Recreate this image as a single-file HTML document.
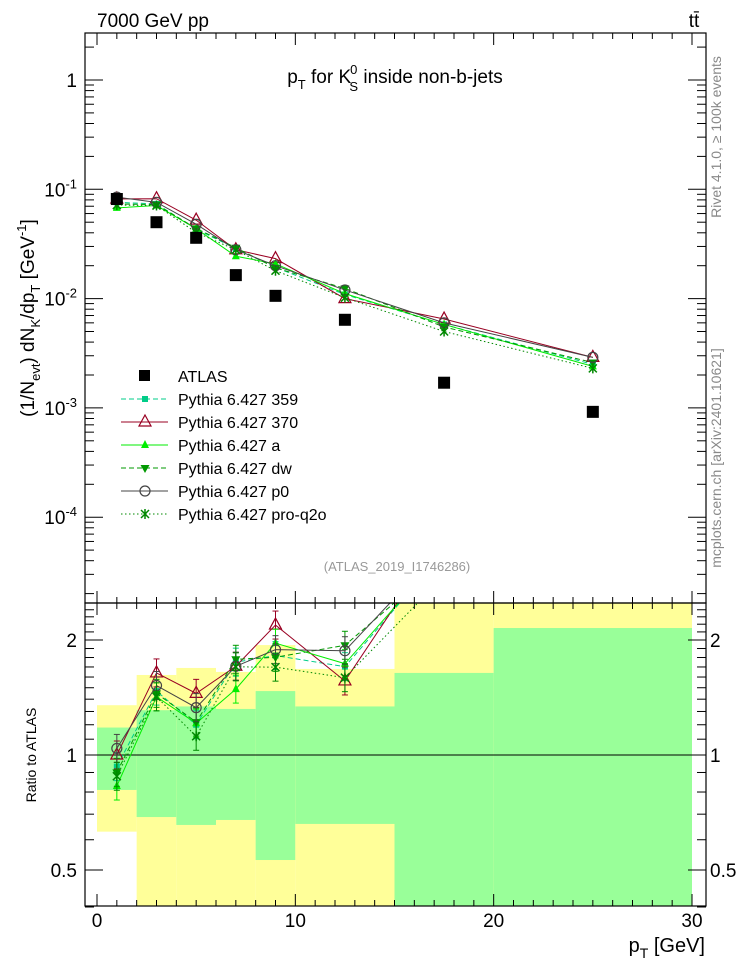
<!DOCTYPE html>
<html><head><meta charset="utf-8"><style>
body{margin:0;background:#fff}
svg{display:block;font-family:"Liberation Sans",sans-serif}
</style></head><body>
<svg id="c" width="746" height="972" viewBox="0 0 746 972" xmlns="http://www.w3.org/2000/svg">
<text x="97" y="27" font-size="19">7000 GeV pp</text>
<text x="694" y="27" font-size="19" text-anchor="middle">tt̄</text>
<text x="395" y="83" font-size="19" text-anchor="middle">p<tspan font-size="13" dy="6">T</tspan><tspan dy="-6"> for K</tspan><tspan font-size="13" dx="-1" dy="-9">0</tspan><tspan font-size="13" dx="-8" dy="17">S</tspan><tspan dy="-8"> inside non-b-jets</tspan></text>
<text transform="translate(34,318) rotate(-90)" font-size="19" text-anchor="middle">(1/N<tspan font-size="13" dy="6">evt</tspan><tspan dy="-6">) dN</tspan><tspan font-size="13" dy="6">K</tspan><tspan dy="-6">/dp</tspan><tspan font-size="13" dy="6">T</tspan><tspan dy="-6"> [GeV</tspan><tspan font-size="13" dy="-8">-1</tspan><tspan dy="8">]</tspan></text>
<text transform="translate(721,137) rotate(-90)" font-size="14" fill="#888" text-anchor="middle">Rivet 4.1.0, ≥ 100k events</text>
<text transform="translate(721,458) rotate(-90)" font-size="14" fill="#888" text-anchor="middle">mcplots.cern.ch [arXiv:2401.10621]</text>
<text x="397" y="571" font-size="13" fill="#999" text-anchor="middle">(ATLAS_2019_I1746286)</text>
<text transform="translate(36,755) rotate(-90)" font-size="14" text-anchor="middle">Ratio to ATLAS</text>
<text x="705" y="952" font-size="20" text-anchor="end">p<tspan font-size="14" dy="6">T</tspan><tspan dy="-6"> [GeV]</tspan></text>
<g id="bands"></g><g id="ratio"></g><g id="main"></g><g id="axes"></g><g id="legend"></g>
</svg>
<script>
const xCenters=[1,3,5,7,9,12.5,17.5,25];
const binEdges=[0,2,4,6,8,10,15,20,30];
const atlas=[0.0815,0.050,0.036,0.0164,0.0106,0.0064,0.0017,0.00092];
const p359=[0.076,0.0735,0.0432,0.0287,0.0193,0.0109,0.0058,0.0025];
const p370=[0.0815,0.082,0.0522,0.0280,0.0232,0.0100,0.0065,0.0029];
const pA=[0.0676,0.071,0.0436,0.0244,0.0208,0.0111,0.0058,0.0024];
const pDW=[0.0734,0.0725,0.0439,0.0292,0.0191,0.0124,0.0055,0.0026];
const pP0=[0.0848,0.076,0.0479,0.0280,0.0200,0.0120,0.0060,0.0029];
const pQ2O=[0.0717,0.071,0.0403,0.0279,0.0180,0.0102,0.0050,0.0023];
const bandInnerLo=[0.81,0.688,0.656,0.676,0.531,0.66,0.3,0.3];
const bandInnerHi=[1.18,1.31,1.34,1.32,1.47,1.34,1.64,2.15];
const bandOuterLo=[0.63,0.3,0.3,0.3,0.3,0.3,0.3,0.3];
const bandOuterHi=[1.35,1.62,1.69,1.65,1.94,1.68,3,3];
const yTicksMain=[1,0.1,0.01,0.001,0.0001];
const yTickLabels=["1","10<tspan dy='-8' font-size='13'>-1</tspan>","10<tspan dy='-8' font-size='13'>-2</tspan>","10<tspan dy='-8' font-size='13'>-3</tspan>","10<tspan dy='-8' font-size='13'>-4</tspan>"];
const ratioTicks=[2,1,0.5];
const xTicks=[0,10,20,30];

const NS="http://www.w3.org/2000/svg";
const L=85,R=706,T=33,MB=603,RB=906;
const X=v=>97+v*(692-97)/30;
const Y=v=>80-109.3*Math.log10(v);
const YR=v=>755-382*Math.log10(v);
const clampR=v=>Math.max(603,Math.min(906,v));
function el(tag,attrs,parent){const e=document.createElementNS(NS,tag);for(const k in attrs)e.setAttribute(k,attrs[k]);parent.appendChild(e);return e;}
const G=id=>document.getElementById(id);

// bands
const bands=G('bands');
binEdges.slice(0,-1).forEach((x0,i)=>{
  const x1=binEdges[i+1];
  let r=el('rect',{x:X(x0),width:X(x1)-X(x0),y:clampR(YR(bandOuterHi[i])),height:clampR(YR(bandOuterLo[i]))-clampR(YR(bandOuterHi[i])),fill:'#ffff99'},bands);
  
  
  r=el('rect',{x:X(x0),width:X(x1)-X(x0),y:clampR(YR(bandInnerHi[i])),height:clampR(YR(bandInnerLo[i]))-clampR(YR(bandInnerHi[i])),fill:'#99ff99'},bands);
  
  
});
el('line',{x1:L,x2:R,y1:YR(1),y2:YR(1),stroke:'#000','stroke-width':1},bands);

const series=[
 {name:'Pythia 6.427 359',d:p359,color:'#00cc88',dash:'5,3',m:'sq'},
 {name:'Pythia 6.427 370',d:p370,color:'#990022',dash:'',m:'tri'},
 {name:'Pythia 6.427 a',d:pA,color:'#00ee00',dash:'',m:'ftri'},
 {name:'Pythia 6.427 dw',d:pDW,color:'#009900',dash:'5,3',m:'dtri'},
 {name:'Pythia 6.427 p0',d:pP0,color:'#444',dash:'',m:'circ'},
 {name:'Pythia 6.427 pro-q2o',d:pQ2O,color:'#008800',dash:'1.5,2.5',m:'star'}];

function marker(g,m,x,y,c){
  let e;
  if(m==='sq')e=el('rect',{x:x-3,y:y-3,width:6,height:6,fill:c},g);
  else if(m==='tri')e=el('path',{d:`M${x},${y-7}L${x+6},${y+4}L${x-6},${y+4}Z`,fill:'none',stroke:c,'stroke-width':1.2},g);
  else if(m==='ftri')e=el('path',{d:`M${x},${y-5}L${x+4},${y+3}L${x-4},${y+3}Z`,fill:c},g);
  else if(m==='dtri')e=el('path',{d:`M${x},${y+5}L${x+4.5},${y-3}L${x-4.5},${y-3}Z`,fill:c},g);
  else if(m==='circ')e=el('circle',{cx:x,cy:y,r:5,fill:'none',stroke:c,'stroke-width':1.2},g);
  else e=el('path',{d:`M${x-4},${y-4}L${x+4},${y+4}M${x+4},${y-4}L${x-4},${y+4}M${x},${y-5}V${y+5}`,stroke:c,'stroke-width':1.5},g);
  return e;
}
const main=G('main'),ratio=G('ratio');
series.forEach((s,si)=>{
  const g=el('g',{},main);
  
  
  const pts=xCenters.map((x,i)=>X(x)+','+Y(s.d[i])).join(' ');
  el('polyline',{points:pts,fill:'none',stroke:s.color,'stroke-width':1,'stroke-dasharray':s.dash},g);
  xCenters.forEach((x,i)=>{const mk=marker(g,s.m,X(x),Y(s.d[i]),s.color);
    
    });
  const gr=el('g',{'clip-path':'url(#rclip)'},ratio);
  
  
  const rp=xCenters.map((x,i)=>X(x)+','+YR(s.d[i]/atlas[i])).join(' ');
  el('polyline',{points:rp,fill:'none',stroke:s.color,'stroke-width':1,'stroke-dasharray':s.dash},gr);
  xCenters.forEach((x,i)=>{const ry=YR(s.d[i]/atlas[i]);if(ry<603||ry>906)return;
    el('line',{x1:X(x),x2:X(x),y1:ry-14,y2:ry+14,stroke:s.color,'stroke-width':1},gr);
    el('line',{x1:X(x)-3,x2:X(x)+3,y1:ry-14,y2:ry-14,stroke:s.color},gr);
    el('line',{x1:X(x)-3,x2:X(x)+3,y1:ry+14,y2:ry+14,stroke:s.color},gr);
    const mk=marker(gr,s.m,X(x),ry,s.color);
    
    });
});
const defs=el('defs',{},G('c'));
const cp=el('clipPath',{id:'rclip'},defs);el('rect',{x:L,y:MB,width:R-L,height:RB-MB},cp);
xCenters.forEach((x,i)=>{const r=el('rect',{x:X(x)-6,y:Y(atlas[i])-6,width:12,height:12,fill:'#000'},main);
  
  });

// axes
const ax=G('axes');
el('rect',{x:L,y:T,width:R-L,height:MB-T,fill:'none',stroke:'#000','stroke-width':1.2},ax);
el('rect',{x:L,y:MB,width:R-L,height:RB-MB,fill:'none',stroke:'#000','stroke-width':1.2},ax);
for(let v=0;v<=30;v++){const big=v%10===0,h=big?12:6;
  [[T,1],[MB,-1],[MB,1],[RB,-1]].forEach(([y0,dir])=>el('line',{x1:X(v),x2:X(v),y1:y0,y2:y0+dir*h,stroke:'#000'},ax));}
for(let e=-5;e<=0;e++)for(let k=1;k<10;k++){const v=k*Math.pow(10,e),y=Y(v);if(y<T||y>MB)continue;const h=k===1?18:9;
  el('line',{x1:L,x2:L+h,y1:y,y2:y,stroke:'#000'},ax);el('line',{x1:R,x2:R-h,y1:y,y2:y,stroke:'#000'},ax);}
[0.4,0.5,0.6,0.7,0.8,0.9,1,1.1,1.2,1.3,1.4,1.5,1.6,1.7,1.8,1.9,2,2.1,2.2,2.3,2.4].forEach(v=>{const y=YR(v);const h=(v===0.5||v===1||v===2)?18:9;
  el('line',{x1:L,x2:L+h,y1:y,y2:y,stroke:'#000'},ax);el('line',{x1:R,x2:R-h,y1:y,y2:y,stroke:'#000'},ax);});
yTicksMain.forEach((v,i)=>{const t=el('text',{x:77,y:Y(v)+7,'font-size':19,'text-anchor':'end'},ax);t.innerHTML=yTickLabels[i];
  
  });
ratioTicks.forEach(v=>{[[77,'end'],[710,'start']].forEach(([x,a])=>{const t=el('text',{x:x,y:YR(v)+7,'font-size':19,'text-anchor':a},ax);t.textContent=v;
  
  });});
xTicks.forEach(v=>{const t=el('text',{x:X(v),y:927,'font-size':19,'text-anchor':'middle'},ax);t.textContent=v;
  
  });

// legend
const lg=G('legend');
const la=el('rect',{x:139,y:370,width:11,height:11,fill:'#000'},lg);
let lt=el('text',{x:178,y:382,'font-size':16},lg);lt.textContent='ATLAS';


series.forEach((s,i)=>{const y=399+i*23;
  el('line',{x1:121,x2:168,y1:y,y2:y,stroke:s.color,'stroke-dasharray':s.dash},lg);
  marker(lg,s.m,145,y,s.color);
  const t=el('text',{x:178,y:y+6,'font-size':16},lg);t.textContent=s.name;
  
  });
</script>
</body></html>
